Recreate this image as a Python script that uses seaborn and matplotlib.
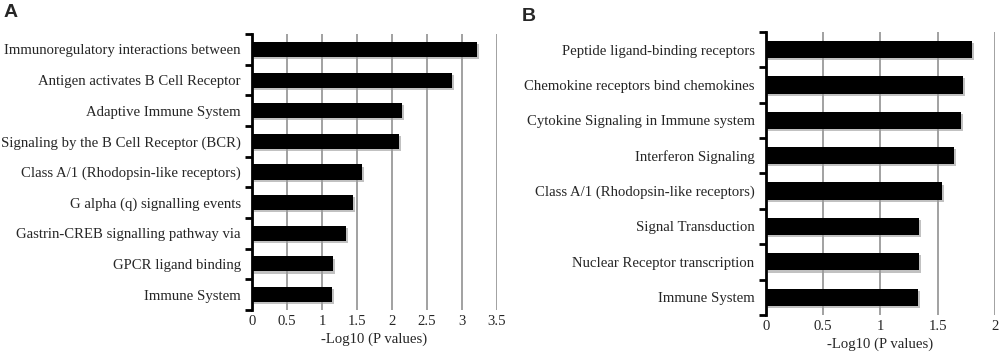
import seaborn as sns
import matplotlib.pyplot as plt
import matplotlib.patheffects as pe
import numpy as np
import pandas as pd

# Panel A pathways and -log10 p values
pathways_a = ['Immunoregulatory interactions between', 'Antigen activates B Cell Receptor',
              'Adaptive Immune System', 'Signaling by the B Cell Receptor (BCR)',
              'Class A/1 (Rhodopsin-like receptors)', 'G alpha (q) signalling events',
              'Gastrin-CREB signalling pathway via', 'GPCR ligand binding', 'Immune System']
scores_a = [3.21, 2.85, 2.14, 2.10, 1.57, 1.44, 1.34, 1.16, 1.14]
ticks_a = [0, 0.5, 1, 1.5, 2, 2.5, 3, 3.5]

# Panel B
pathways_b = ['Peptide ligand-binding receptors', 'Chemokine receptors bind chemokines',
              'Cytokine Signaling in Immune system', 'Interferon Signaling',
              'Class A/1 (Rhodopsin-like receptors)', 'Signal Transduction',
              'Nuclear Receptor transcription', 'Immune System']
scores_b = [1.80, 1.72, 1.70, 1.64, 1.54, 1.34, 1.34, 1.33]
ticks_b = [0, 0.5, 1, 1.5, 2]

sns.set_style('white')
plt.rcParams['font.family'] = ['Liberation Serif', 'DejaVu Serif']

fig = plt.figure(figsize=(10, 3.55), dpi=100)
ax_a = fig.add_axes([0.252, 0.127, 0.245, 0.777])
ax_b = fig.add_axes([0.7657, 0.113, 0.2293, 0.797])

shadow = [pe.SimplePatchShadow(offset=(1.5, -1.5), shadow_rgbFace='#999999', alpha=0.6), pe.Normal()]


def draw_panel(ax, names, vals, ticks):
    df = pd.DataFrame({'pathway': names, 'score': vals})
    sns.barplot(data=df, y='pathway', x='score', color='black', width=0.49,
                saturation=1, linewidth=0, ax=ax, zorder=2)
    for p in ax.patches:
        p.set_path_effects(shadow)
    n = len(names)
    ax.set_xlim(0, ticks[-1])
    ax.set_ylim(n - 0.5, -0.5)
    ax.set_xticks(ticks)
    ax.set_xticklabels([f'{t:g}' for t in ticks], fontsize=10.6)
    ax.set_yticks(np.arange(n))
    ax.set_yticklabels(names, fontsize=10.6)
    ax.set_yticks(np.arange(n + 1) - 0.5, minor=True)
    ax.tick_params(axis='y', which='major', left=False, length=0, pad=8)
    ax.tick_params(axis='y', which='minor', left=True, length=5, width=2,
                   color='black', direction='out')
    ax.tick_params(axis='x', bottom=False, length=0, pad=4)
    for t in ticks[1:]:
        ax.axvline(t, color='#9a9a9a', lw=1.3, zorder=1)
    for s in ['top', 'right', 'bottom']:
        ax.spines[s].set_visible(False)
    ax.spines['left'].set_linewidth(2)
    ax.spines['left'].set_color('black')
    ax.spines['left'].set_zorder(4)
    ax.set_ylabel('')
    ax.set_xlabel('-Log10 (P values)', fontsize=10.6, labelpad=3)
    ax.grid(False)


draw_panel(ax_a, pathways_a, scores_a, ticks_a)
draw_panel(ax_b, pathways_b, scores_b, ticks_b)

fig.text(0.004, 0.99, 'A', fontsize=14, fontweight='bold', family='Liberation Sans', va='top')
fig.text(0.522, 0.978, 'B', fontsize=14, fontweight='bold', family='Liberation Sans', va='top')

fig.savefig('out.png', dpi=100)
